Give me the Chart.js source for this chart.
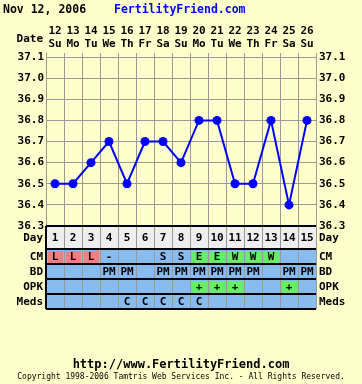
<!DOCTYPE html>
<html>
<head>
<meta charset="utf-8">
<script src="https://cdn.jsdelivr.net/npm/chart.js@4"></script>
<style>
  body { margin: 0; background: #ffffcc; }
  canvas { display: block; }
</style>
</head>
<body>
<canvas id="chart" width="362" height="384"></canvas>
<script>
const chartDate = "Nov 12, 2006";
const dayNums = ["12", "13", "14", "15", "16", "17", "18", "19", "20", "21", "22", "23", "24", "25", "26"];
const weekdays = ["Su", "Mo", "Tu", "We", "Th", "Fr", "Sa", "Su", "Mo", "Tu", "We", "Th", "Fr", "Sa", "Su"];
const temps = [36.5, 36.5, 36.6, 36.7, 36.5, 36.7, 36.7, 36.6, 36.8, 36.8, 36.5, 36.5, 36.8, 36.4, 36.8];
const cycleDays = ["1", "2", "3", "4", "5", "6", "7", "8", "9", "10", "11", "12", "13", "14", "15"];
const cm = ["L", "L", "L", "-", "", "", "S", "S", "E", "E", "W", "W", "W", "", ""];
const bd = ["", "", "", "PM", "PM", "", "PM", "PM", "PM", "PM", "PM", "PM", "", "PM", "PM"];
const opk = ["", "", "", "", "", "", "", "", "+", "+", "+", "", "", "+", ""];
const meds = ["", "", "", "", "C", "C", "C", "C", "C", "", "", "", "", "", ""];

const FONT = "'DejaVu Sans Mono', monospace";
const highlight = { L: "#f08080", E: "#66ee66", W: "#66ee66", "+": "#66ee66" };

const tableRows = [
  { label: "CM", data: cm },
  { label: "BD", data: bd },
  { label: "OPK", data: opk },
  { label: "Meds", data: meds },
];

const extras = {
  id: "extras",
  beforeDraw(chart) {
    const ctx = chart.ctx;
    ctx.save();
    ctx.fillStyle = "#ffffcc";
    ctx.fillRect(0, 0, chart.width, chart.height);
    ctx.restore();
  },
  afterDraw(chart) {
    const ctx = chart.ctx;
    const a = chart.chartArea;
    const x = chart.scales.x;
    const half = (x.getPixelForValue(1) - x.getPixelForValue(0)) / 2;
    const dayTop = a.bottom;
    const dayH = 23;
    const rowH = 15;
    const tableBottom = dayTop + dayH + rowH * tableRows.length;

    ctx.save();
    // header
    ctx.textBaseline = "middle";
    ctx.textAlign = "left";
    ctx.font = "bold 11.5px " + FONT;
    ctx.fillStyle = "#000";
    ctx.fillText(chartDate, 3, 10);
    ctx.fillStyle = "#0000ff";
    ctx.fillText("FertilityFriend.com", 114, 10);
    ctx.fillStyle = "#000";
    ctx.font = "bold 11px " + FONT;
    ctx.textAlign = "right";
    ctx.fillText("Date", 43, 39);

    // table backgrounds
    ctx.fillStyle = "#eeeeee";
    ctx.fillRect(a.left, dayTop, a.right - a.left, dayH);
    ctx.fillStyle = "#88bbee";
    ctx.fillRect(a.left, dayTop + dayH, a.right - a.left, rowH * tableRows.length);

    tableRows.forEach((row, r) => {
      const y0 = dayTop + dayH + r * rowH;
      row.data.forEach((v, i) => {
        if (highlight[v]) {
          const cx = x.getPixelForValue(i);
          ctx.fillStyle = highlight[v];
          ctx.fillRect(cx - half + 2, y0 + 2, half * 2 - 3, rowH - 3);
        }
      });
    });

    // column lines
    ctx.strokeStyle = "#999999";
    ctx.lineWidth = 1;
    for (let i = 0; i <= cycleDays.length; i++) {
      const px = Math.round(x.getPixelForValue(0) - half + i * half * 2) + 0.5;
      ctx.beginPath();
      ctx.moveTo(px, dayTop);
      ctx.lineTo(px, tableBottom);
      ctx.stroke();
    }
    // row lines
    ctx.strokeStyle = "#000";
    ctx.lineWidth = 2;
    const ys = [dayTop, dayTop + dayH];
    tableRows.forEach((row, r) => ys.push(dayTop + dayH + (r + 1) * rowH));
    ys.forEach((y) => {
      ctx.beginPath();
      ctx.moveTo(a.left, y);
      ctx.lineTo(a.right, y);
      ctx.stroke();
    });
    ctx.beginPath();
    ctx.moveTo(a.left, dayTop);
    ctx.lineTo(a.left, tableBottom);
    ctx.stroke();

    // texts
    ctx.fillStyle = "#000";
    ctx.textBaseline = "middle";
    ctx.font = "bold 11px " + FONT;
    ctx.textAlign = "center";
    cycleDays.forEach((d, i) => ctx.fillText(d, x.getPixelForValue(i), dayTop + dayH / 2 + 1));
    tableRows.forEach((row, r) => {
      const cy = dayTop + dayH + r * rowH + rowH / 2 + 1;
      row.data.forEach((v, i) => {
        if (v) ctx.fillText(v, x.getPixelForValue(i), cy);
      });
    });

    const labels = [{ t: "Day", y: dayTop + dayH / 2 + 1 }].concat(
      tableRows.map((row, r) => ({ t: row.label, y: dayTop + dayH + r * rowH + rowH / 2 + 1 }))
    );
    labels.forEach((l) => {
      ctx.textAlign = "right";
      ctx.fillText(l.t, a.left - 3, l.y);
      ctx.textAlign = "left";
      ctx.fillText(l.t, a.right + 3, l.y);
    });

    // footer
    ctx.textAlign = "center";
    ctx.font = "bold 12px " + FONT;
    ctx.fillText("http://www.FertilityFriend.com", 181, 365);
    ctx.font = "8px " + FONT;
    ctx.fillText("Copyright 1998-2006 Tamtris Web Services Inc. - All Rights Reserved.", 181, 377);
    ctx.restore();
  },
};

const tickFont = { family: FONT, size: 11, weight: "bold", lineHeight: 1.2 };

new Chart(document.getElementById("chart"), {
  type: "line",
  data: {
    labels: dayNums.map((d, i) => [d, weekdays[i]]),
    datasets: [
      {
        data: temps,
        borderColor: "#0000ff",
        backgroundColor: "#0000ff",
        borderWidth: 2,
        tension: 0,
        pointRadius: 4.5,
        pointBorderWidth: 0,
        pointBackgroundColor: "#0000ff",
      },
    ],
  },
  options: {
    responsive: false,
    animation: false,
    layout: { padding: { top: 0, left: 0, right: 0, bottom: 158 } },
    scales: {
      x: {
        type: "category",
        position: "top",
        offset: true,
        grid: { color: "#999999", offset: true, tickLength: 4 },
        border: { color: "#999999" },
        ticks: { color: "#000", font: tickFont, padding: 2, maxRotation: 0, autoSkip: false },
        afterFit: (scale) => { scale.height = 57; },
      },
      y: {
        position: "left",
        min: 36.3,
        max: 37.1,
        grid: { color: "#999999", drawTicks: false },
        border: { color: "#999999" },
        ticks: {
          stepSize: 0.1,
          color: "#000",
          font: tickFont,
          padding: 2,
          callback: (v) => Number(v).toFixed(1),
        },
        afterFit: (scale) => { scale.width = 46; },
      },
      y2: {
        position: "right",
        min: 36.3,
        max: 37.1,
        grid: { display: false, drawTicks: false },
        border: { color: "#999999" },
        ticks: {
          stepSize: 0.1,
          color: "#000",
          font: tickFont,
          padding: 3,
          callback: (v) => Number(v).toFixed(1),
        },
        afterFit: (scale) => { scale.width = 46; },
      },
    },
    plugins: {
      legend: { display: false },
      tooltip: { enabled: false },
    },
  },
  plugins: [extras],
});
</script>
</body>
</html>
